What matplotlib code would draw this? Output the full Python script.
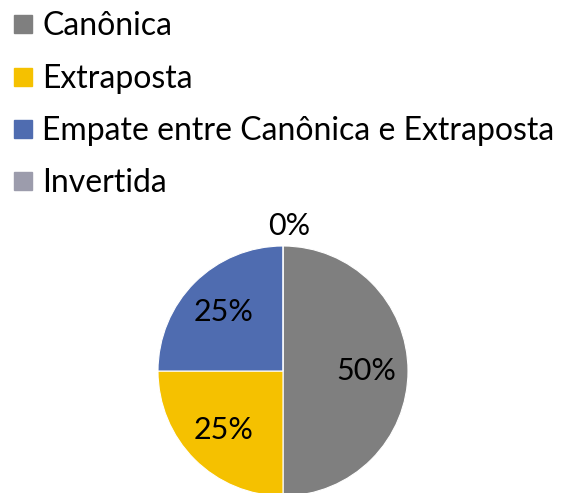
import matplotlib.pyplot as plt
from matplotlib.lines import Line2D

plt.rcParams['font.family'] = ['Lato', 'DejaVu Sans']

categorias = ['Canônica', 'Extraposta', 'Empate entre Canônica e Extraposta', 'Invertida']
valores = [50, 25, 25, 0]
cores = ['#7f7f7f', '#f5c100', '#4f6cb0', '#9c9cac']

fig = plt.figure(figsize=(5.67, 4.93), dpi=100)

# pizza
ax = fig.add_axes([158 / 567, -3 / 493, 250 / 567, 250 / 493])
wedges, textos, pcts = ax.pie(valores, colors=cores, startangle=90, counterclock=False,
                              autopct='%1.0f%%', pctdistance=0.67,
                              wedgeprops={'edgecolor': 'white', 'linewidth': 0.8},
                              textprops={'fontsize': 22, 'color': 'black'})
# rótulo da fatia vazia fica acima da pizza
pcts[3].set_position((0.05, 1.16))
ax.set_xlim(-1, 1)
ax.set_ylim(-1, 1)

# legenda
handles = [Line2D([], [], marker='s', linestyle='none', markersize=13,
                  markerfacecolor=c, markeredgecolor=c) for c in cores]
fig.legend(handles, categorias, loc='upper left', bbox_to_anchor=(0.018, 0.977),
           frameon=False, fontsize=23, labelspacing=0.7, handlelength=0.8,
           handletextpad=0.2, borderaxespad=0, borderpad=0)

fig.savefig('out.png', dpi=100)
